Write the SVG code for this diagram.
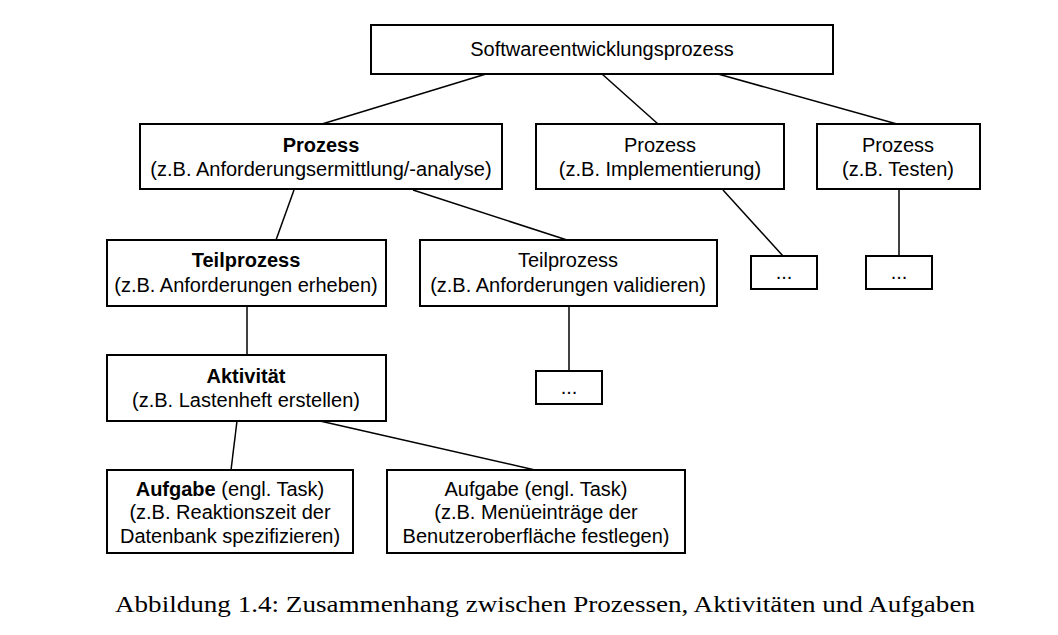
<svg xmlns="http://www.w3.org/2000/svg" width="1058" height="635" viewBox="0 0 1058 635">
<style>
.box{fill:#fff;stroke:#000;stroke-width:2}
.t{font-family:"Liberation Sans",Arial,sans-serif;font-size:20px;fill:#000;text-anchor:middle}
.b{font-weight:bold}
.cap{font-family:"Liberation Serif","Times New Roman",serif;font-size:23px;fill:#000}
#connectors line{stroke:#000;stroke-width:1.5}
</style>
<rect width="1058" height="635" fill="#fff"/>
<g id="connectors">
<line x1="486" y1="74" x2="322" y2="124"/>
<line x1="602" y1="74" x2="658" y2="124"/>
<line x1="718" y1="74" x2="897" y2="124"/>
<line x1="723" y1="190" x2="783" y2="256"/>
<line x1="899" y1="190" x2="899" y2="256"/>
<line x1="294" y1="190" x2="276" y2="240"/>
<line x1="413" y1="190" x2="567" y2="240"/>
<line x1="247" y1="306" x2="247" y2="355"/>
<line x1="569" y1="306" x2="569" y2="371"/>
<line x1="237" y1="421" x2="231" y2="470"/>
<line x1="320" y1="421" x2="535" y2="470"/>
</g>
<g id="root"><rect class="box" x="371" y="25" width="462" height="49"/><text class="t" x="602" y="56">Softwareentwicklungsprozess</text></g>
<g id="prozess1"><rect class="box" x="140" y="124" width="362" height="65"/><text class="t b" x="321" y="152">Prozess</text><text class="t" x="321" y="176">(z.B. Anforderungsermittlung/-analyse)</text></g>
<g id="prozess2"><rect class="box" x="536" y="124" width="248" height="65"/><text class="t" x="660" y="152">Prozess</text><text class="t" x="660" y="176">(z.B. Implementierung)</text></g>
<g id="prozess3"><rect class="box" x="817" y="124" width="163" height="65"/><text class="t" x="898" y="152">Prozess</text><text class="t" x="898" y="176">(z.B. Testen)</text></g>
<g id="dots1"><rect class="box" x="751" y="256" width="66" height="33"/><text class="t" x="784" y="279">...</text></g>
<g id="dots2"><rect class="box" x="866" y="256" width="66" height="33"/><text class="t" x="899" y="279">...</text></g>
<g id="teil1"><rect class="box" x="107" y="240" width="279" height="66"/><text class="t b" x="246" y="267">Teilprozess</text><text class="t" x="246" y="292">(z.B. Anforderungen erheben)</text></g>
<g id="teil2"><rect class="box" x="420" y="240" width="297" height="66"/><text class="t" x="568" y="267">Teilprozess</text><text class="t" x="568" y="292">(z.B. Anforderungen validieren)</text></g>
<g id="dots3"><rect class="box" x="536" y="371" width="66" height="33"/><text class="t" x="569" y="394">...</text></g>
<g id="aktivitaet"><rect class="box" x="107" y="355" width="279" height="66"/><text class="t b" x="246" y="383">Aktivität</text><text class="t" x="246" y="407">(z.B. Lastenheft erstellen)</text></g>
<g id="aufgabe1"><rect class="box" x="107" y="470" width="246" height="83"/><text class="t" x="230" y="496"><tspan class="b">Aufgabe</tspan> (engl. Task)</text><text class="t" x="230" y="519">(z.B. Reaktionszeit der</text><text class="t" x="230" y="543">Datenbank spezifizieren)</text></g>
<g id="aufgabe2"><rect class="box" x="387" y="470" width="298" height="83"/><text class="t" x="536" y="496">Aufgabe (engl. Task)</text><text class="t" x="536" y="519">(z.B. Menüeinträge der</text><text class="t" x="536" y="543">Benutzeroberfläche festlegen)</text></g>
<text class="cap" x="115" y="612" textLength="860" lengthAdjust="spacingAndGlyphs">Abbildung 1.4: Zusammenhang zwischen Prozessen, Aktivitäten und Aufgaben</text>
</svg>
